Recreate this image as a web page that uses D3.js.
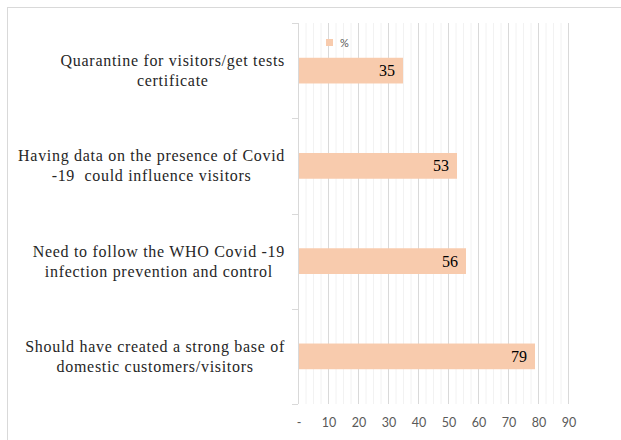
<!DOCTYPE html>
<html lang="en">
<head>
<meta charset="UTF-8">
<title>Covid measures</title>
<script src="https://d3js.org/d3.v7.min.js"></script>
<style>
  body { margin: 0; background: #fff; }
</style>
</head>
<body>
<div id="chart"></div>
<script>
const width = 621;
const height = 440;
const serif = "'Liberation Serif', 'Times New Roman', serif";
const sans = "'Lato', 'Open Sans', sans-serif";

// data
const categories = [
    ["Quarantine for visitors/get tests", "certificate"],
    ["Having data on the presence of Covid", "-19  could influence visitors"],
    ["Need to follow the WHO Covid -19", "infection prevention and control"],
    ["Should have created a strong base of", "domestic customers/visitors"]
];
const values = [35, 53, 56, 79];
const tickValues = [0, 10, 20, 30, 40, 50, 60, 70, 80, 90];
const seriesName = "%";

const margin = { top: 23, right: 53, bottom: 36, left: 298 };

const svg = d3.select("#chart").append("svg")
    .attr("width", width)
    .attr("height", height);

// outer chart border (only top/left visible in the frame)
svg.append("rect")
    .attr("x", 7.5).attr("y", 7.5)
    .attr("width", 640).attr("height", 460)
    .attr("fill", "none")
    .attr("stroke", "#d9d9d9");

const x = d3.scaleLinear()
    .domain([0, 90])
    .range([margin.left, width - margin.right]);

const y = d3.scaleBand()
    .domain(d3.range(values.length))
    .range([margin.top, height - margin.bottom])
    .paddingInner(0.73)
    .paddingOuter(0.365);

const yOuter = d3.scaleBand()
    .domain(d3.range(values.length))
    .range([margin.top, height - margin.bottom]);

// minor grid every 2.5
const minor = d3.range(0, 90.01, 2.5).filter(d => d % 10 !== 0);
svg.append("g").selectAll("line")
    .data(minor)
    .join("line")
    .attr("x1", d => x(d) + 0.5).attr("x2", d => x(d) + 0.5)
    .attr("y1", margin.top).attr("y2", height - margin.bottom)
    .attr("stroke", "#f2f2f2");

// major grid
svg.append("g").selectAll("line")
    .data(tickValues.slice(1))
    .join("line")
    .attr("x1", d => x(d) + 0.5).attr("x2", d => x(d) + 0.5)
    .attr("y1", margin.top).attr("y2", height - margin.bottom)
    .attr("stroke", "#d9d9d9");

// category axis
const yAxis = svg.append("g");
yAxis.append("line")
    .attr("x1", margin.left + 0.5).attr("x2", margin.left + 0.5)
    .attr("y1", margin.top).attr("y2", height - margin.bottom)
    .attr("stroke", "#d9d9d9");
yAxis.selectAll("line.tick")
    .data(d3.range(values.length + 1))
    .join("line")
    .attr("class", "tick")
    .attr("x1", margin.left - 6).attr("x2", margin.left)
    .attr("y1", i => Math.round(margin.top + i * yOuter.step()) + 0.5)
    .attr("y2", i => Math.round(margin.top + i * yOuter.step()) + 0.5)
    .attr("stroke", "#d9d9d9");

// bars
svg.append("g").selectAll("rect")
    .data(values)
    .join("rect")
    .attr("x", x(0) + 1)
    .attr("y", (d, i) => y(i))
    .attr("width", d => x(d) - x(0) - 1)
    .attr("height", y.bandwidth())
    .attr("fill", "#f8cbad");

// value labels
svg.append("g").selectAll("text")
    .data(values)
    .join("text")
    .style("font-family", serif)
    .attr("x", d => x(d) - 8)
    .attr("y", (d, i) => y(i) + y.bandwidth() / 2)
    .attr("dy", "0.35em")
    .attr("text-anchor", "end")
    .attr("font-size", 16)
    .attr("fill", "#000")
    .text(d => d);

// category labels: lines centred in a block, block right aligned
const labelRight = 285;
categories.forEach(function (lines, i) {
    const cy = yOuter(i) + yOuter.bandwidth() / 2;
    const g = svg.append("g");
    const texts = g.selectAll("text")
        .data(lines)
        .join("text")
        .style("font-family", serif)
        .style("white-space", "pre")
        .attr("font-size", 16)
        .attr("letter-spacing", 0.7)
        .attr("fill", "#262626")
        .attr("text-anchor", "middle")
        .attr("y", (d, j) => cy + (j - (lines.length - 1) / 2) * 20)
        .attr("dy", "0.35em")
        .text(d => d);
    let w = 0;
    texts.each(function () { w = Math.max(w, this.getComputedTextLength()); });
    texts.attr("x", labelRight - w / 2);
});

// value axis tick labels
svg.append("g").selectAll("text")
    .data(tickValues)
    .join("text")
    .style("font-family", sans)
    .attr("x", d => x(d) + 1)
    .attr("y", 423)
    .attr("dy", "0.35em")
    .attr("text-anchor", "middle")
    .attr("font-size", 12.5)
    .attr("fill", "#595959")
    .text(d => d === 0 ? "-" : d);

// legend
const legend = svg.append("g");
legend.append("rect")
    .attr("x", 326).attr("y", 39)
    .attr("width", 7).attr("height", 7)
    .attr("fill", "#f8cbad");
legend.append("text")
    .style("font-family", sans)
    .attr("x", 340).attr("y", 43)
    .attr("dy", "0.35em")
    .attr("font-size", 11)
    .attr("fill", "#595959")
    .text(seriesName);
</script>
</body>
</html>
